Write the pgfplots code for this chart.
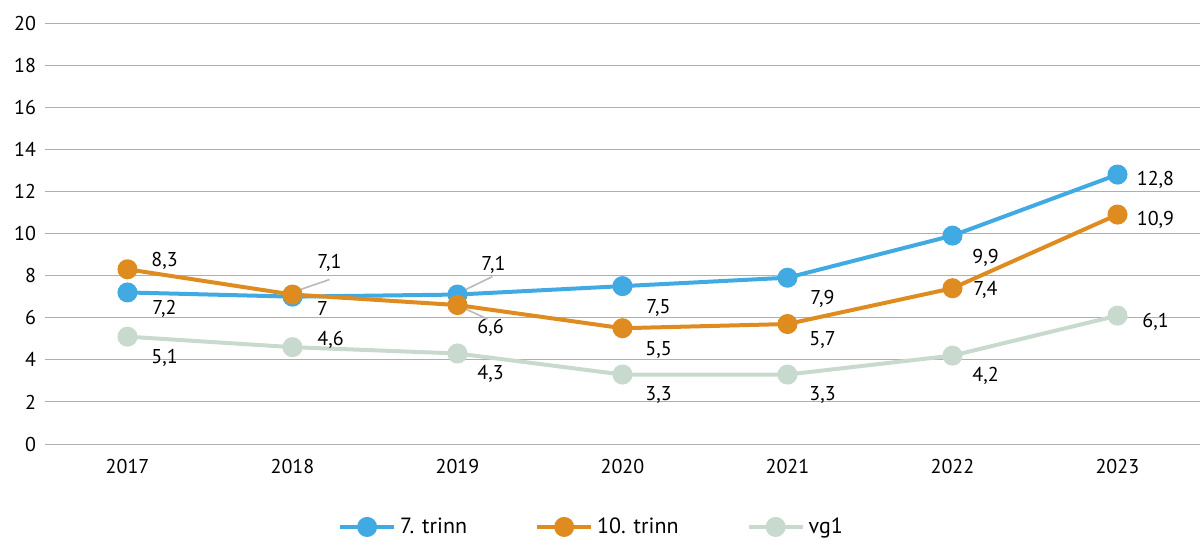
\documentclass[border=0pt]{standalone}
\usepackage{pgfplots}
\pgfplotsset{compat=1.18}
\usepackage{fontspec}
\setmainfont{PT Sans}
\definecolor{blaa}{RGB}{66,170,226}
\definecolor{oransje}{RGB}{222,140,32}
\definecolor{lysgronn}{RGB}{200,218,205}
\definecolor{gridgraa}{RGB}{175,175,175}
\definecolor{leder}{RGB}{185,185,185}

\begin{document}
\begin{tikzpicture}[font=\fontsize{10}{12}\selectfont]
\useasboundingbox (-22.5pt,-57pt) rectangle (577.5pt,222pt);
\begin{axis}[
	at={(0pt,0pt)}, anchor=south west,
	scale only axis,
	width=577.5pt, height=210.5pt,
	xmin=2016.5, xmax=2023.5,
	ymin=0, ymax=20,
	xtick={2017,...,2023},
	ytick={0,2,...,20},
	axis line style={draw=none},
	tick style={draw=none},
	ymajorgrids=true,
	grid style={line width=0.5pt, draw=gridgraa},
	/pgf/number format/assume math mode=true,
	xticklabel={\pgfmathprintnumber[1000 sep={}]{\tick}},
	xticklabel style={yshift=-4pt},
	yticklabel style={xshift=-1pt},
	tick label style={font=\fontsize{10}{12}\selectfont},
	legend columns=3,
	legend style={at={(0.474,-0.197)}, anchor=center, draw=none, fill=none,
		font=\fontsize{11}{12}\selectfont,
		/tikz/every even column/.append style={column sep=32pt}},
	legend image code/.code={
		\draw[#1, mark=none] (0cm,0cm) -- (0.95cm,0cm);
		\draw[#1, only marks] plot coordinates {(0.475cm,0cm)};
	},
	every axis plot/.append style={line width=2pt, mark=*, mark size=4pt},
]
\addplot[color=blaa] coordinates {
	(2017,7.2) (2018,7.0) (2019,7.1) (2020,7.5) (2021,7.9) (2022,9.9) (2023,12.8)
};
\addlegendentry{7. trinn}
\addplot[color=oransje] coordinates {
	(2017,8.3) (2018,7.1) (2019,6.6) (2020,5.5) (2021,5.7) (2022,7.4) (2023,10.9)
};
\addlegendentry{10. trinn}
\addplot[color=lysgronn] coordinates {
	(2017,5.1) (2018,4.6) (2019,4.3) (2020,3.3) (2021,3.3) (2022,4.2) (2023,6.1)
};
\addlegendentry{vg1}

% leader lines
\draw[leder, line width=0.8pt] ([xshift=1pt,yshift=1.5pt]axis cs:2018,7.1) -- ([xshift=18.5pt,yshift=7.5pt]axis cs:2018,7.1);
\draw[leder, line width=0.8pt] ([xshift=1pt,yshift=1pt]axis cs:2019,7.1) -- ([xshift=17.5pt,yshift=9pt]axis cs:2019,7.1);
\draw[leder, line width=0.8pt] ([xshift=2pt,yshift=-1pt]axis cs:2019,6.6) -- ([xshift=15pt,yshift=-7pt]axis cs:2019,6.6);

% 7. trinn
\node at ([xshift=18.5pt,yshift=-8pt]axis cs:2017,7.2) {7,2};
\node at ([xshift=15pt,yshift=-6pt]axis cs:2018,7.0) {7};
\node at ([xshift=18pt,yshift=15pt]axis cs:2019,7.1) {7,1};
\node at ([xshift=18pt,yshift=-11pt]axis cs:2020,7.5) {7,5};
\node at ([xshift=17.5pt,yshift=-10.5pt]axis cs:2021,7.9) {7,9};
\node at ([xshift=16.5pt,yshift=-11pt]axis cs:2022,9.9) {9,9};
\node at ([xshift=19pt,yshift=-2.5pt]axis cs:2023,12.8) {12,8};
% 10. trinn
\node at ([xshift=18.5pt,yshift=4pt]axis cs:2017,8.3) {8,3};
\node at ([xshift=18.5pt,yshift=16pt]axis cs:2018,7.1) {7,1};
\node at ([xshift=16.5pt,yshift=-11.5pt]axis cs:2019,6.6) {6,6};
\node at ([xshift=18pt,yshift=-11pt]axis cs:2020,5.5) {5,5};
\node at ([xshift=17.5pt,yshift=-8pt]axis cs:2021,5.7) {5,7};
\node at ([xshift=16.5pt,yshift=-1pt]axis cs:2022,7.4) {7,4};
\node at ([xshift=19pt,yshift=-2.5pt]axis cs:2023,10.9) {10,9};
% vg1
\node at ([xshift=18.5pt,yshift=-10.5pt]axis cs:2017,5.1) {5,1};
\node at ([xshift=19pt,yshift=3.5pt]axis cs:2018,4.6) {4,6};
\node at ([xshift=16.5pt,yshift=-10pt]axis cs:2019,4.3) {4,3};
\node at ([xshift=18pt,yshift=-10pt]axis cs:2020,3.3) {3,3};
\node at ([xshift=17.5pt,yshift=-10pt]axis cs:2021,3.3) {3,3};
\node at ([xshift=16.5pt,yshift=-10pt]axis cs:2022,4.2) {4,2};
\node at ([xshift=19pt,yshift=-3pt]axis cs:2023,6.1) {6,1};
\end{axis}
\end{tikzpicture}
\end{document}
